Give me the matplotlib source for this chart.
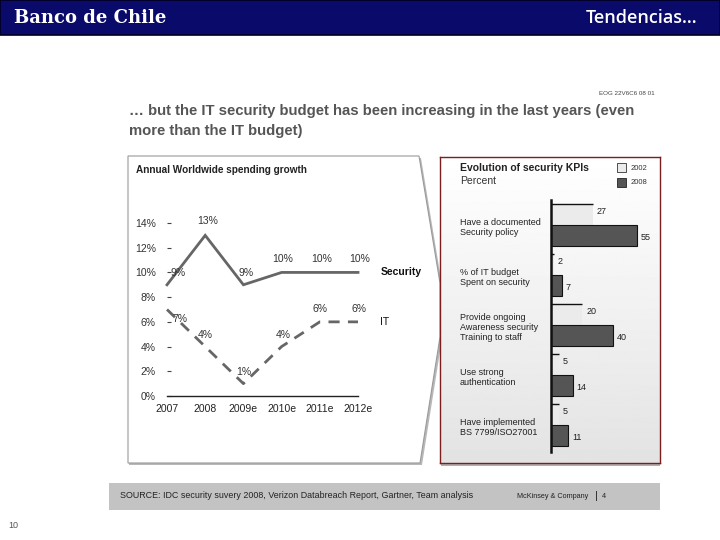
import numpy as np
import matplotlib
matplotlib.use('Agg')
import matplotlib.pyplot as plt
from matplotlib.patches import Rectangle, Polygon
from matplotlib.ticker import FixedLocator

plt.rcParams['font.family'] = ['Liberation Sans', 'DejaVu Sans']

# ---------- data ----------
years = ['2007', '2008', '2009e', '2010e', '2011e', '2012e']
security = [9, 13, 9, 10, 10, 10]
it_spend = [7, 4, 1, 4, 6, 6]
y_ticks = [0, 2, 4, 6, 8, 10, 12, 14]

kpi_labels = ['Have a documented\nSecurity policy',
              '% of IT budget\nSpent on security',
              'Provide ongoing\nAwareness security\nTraining to staff',
              'Use strong\nauthentication',
              'Have implemented\nBS 7799/ISO27001']
kpi_2002 = [27, 2, 20, 5, 5]
kpi_2008 = [55, 7, 40, 14, 11]

W, H = 720, 540


def box(x0, y0, x1, y1):
    # pixel box (top-left origin) -> figure fraction rect
    return [x0 / W, 1 - y1 / H, (x1 - x0) / W, (y1 - y0) / H]


def pt(x, y):
    return (x / W, 1 - y / H)


def ftext(x, y, s, **kw):
    kw.setdefault('va', 'center')
    fig.text(x / W, 1 - y / H, s, **kw)


def fpatch(p):
    p.set_transform(fig.transFigure)
    p.set_zorder(-1)
    fig.patches.append(p)


fig = plt.figure(figsize=(7.2, 5.4), dpi=100)
fig.patch.set_facecolor('white')

# ---------- header ----------
fpatch(Rectangle(pt(0, 35), 1, 35 / H, facecolor='#0a0a6a', edgecolor='#000020', lw=1.2))
ftext(14, 18, 'Banco de Chile', color='white', fontsize=13, fontweight='bold', family='DejaVu Serif')
ftext(697, 18, 'Tendencias…', color='white', fontsize=13, family='Open Sans',
      fontweight='semibold', ha='right')

# ---------- slide title ----------
ftext(655, 93, 'EOG 22V6C6 08 01', fontsize=4.5, color='#444', ha='right')
ftext(129, 111, '… but the IT security budget has been increasing in the last years (even',
      fontsize=10.7, fontweight='bold', color='#555555')
ftext(129, 131, 'more than the IT budget)', fontsize=10.7, fontweight='bold', color='#555555')

# ---------- left panel (arrow box) ----------
fpatch(Polygon([pt(129, 158), pt(421, 158), pt(442, 285), pt(442, 339), pt(422, 465), pt(129, 465)],
               closed=True, facecolor='#b8b8b8', edgecolor='none'))
fpatch(Polygon([pt(128, 156), pt(419, 156), pt(440, 283), pt(440, 337), pt(420, 463), pt(128, 463)],
               closed=True, facecolor='white', edgecolor='#9a9a9a', lw=0.8))
ftext(136, 170, 'Annual Worldwide spending growth', fontsize=7.2, fontweight='bold', color='#222')

# ---------- right panel ----------
bg = fig.add_axes(box(440, 157, 660, 463))
bg.set_zorder(0)
grad = np.linspace(1.0, 0.89, 256).reshape(-1, 1)
bg.imshow(grad, cmap='gray', vmin=0, vmax=1, aspect='auto', extent=[0, 1, 0, 1])
bg.set_xticks([])
bg.set_yticks([])
for s in bg.spines.values():
    s.set_color('#7a1e1e')
    s.set_linewidth(1.0)
fpatch(Rectangle(pt(441, 466), 219 / W, 2.5 / H, facecolor='#b0b0b0', edgecolor='none'))

# ---------- line chart ----------
ax = fig.add_axes(box(167, 223, 358, 396))
ax.set_zorder(2)
x = np.arange(len(years))
line_col = '#666666'
ax.plot(x, security, color=line_col, lw=2, solid_joinstyle='miter', clip_on=False)
ax.plot(x, it_spend, color=line_col, lw=2, dashes=(4, 3), clip_on=False)
ax.set_xlim(0, 5)
ax.set_ylim(0, 14)
for s in ['top', 'right', 'left']:
    ax.spines[s].set_visible(False)
ax.spines['bottom'].set_color('#222')
ax.spines['bottom'].set_linewidth(1)
ax.set_facecolor('none')
ax.set_yticks(y_ticks)
ax.set_yticklabels([f'{v}%' for v in y_ticks], fontsize=7.5, color='#333')
ax.tick_params(axis='y', direction='in', length=3, width=0.8, color='#444', pad=8)
ax.set_xticks(x)
ax.set_xticklabels(years, fontsize=7.5, color='#222')
ax.tick_params(axis='x', length=0, pad=6)
ax.xaxis.set_minor_locator(FixedLocator([1, 5]))
ax.tick_params(axis='x', which='minor', direction='out', length=3, width=0.8, color='#222')

sec_off = [(8, 5), (2, 7), (2, 5), (1, 6), (1, 6), (1, 6)]
it_off = [(9, -3), (0, 5), (0, 5), (1, 5), (0, 6), (1, 6)]
for xi, v, o in zip(x, security, sec_off):
    ax.annotate(f'{v}%', (xi, v), xytext=o, textcoords='offset points', ha='center',
                va='bottom' if o[1] > 0 else 'top', fontsize=7.5, color='#333', annotation_clip=False)
for xi, v, o in zip(x, it_spend, it_off):
    ax.annotate(f'{v}%', (xi, v), xytext=o, textcoords='offset points', ha='center',
                va='bottom' if o[1] > 0 else 'top', fontsize=7.5, color='#333', annotation_clip=False)
ax.annotate('Security', (5, security[-1]), xytext=(16, 0), textcoords='offset points',
            fontsize=7.5, fontweight='bold', color='#111', va='center', annotation_clip=False)
ax.annotate('IT', (5, it_spend[-1]), xytext=(16, 0), textcoords='offset points',
            fontsize=7.5, color='#111', va='center', annotation_clip=False)

# ---------- bar chart ----------
bx = fig.add_axes(box(551, 200, 660, 452))
bx.set_zorder(2)
bx.set_facecolor('none')
n = len(kpi_labels)
g = np.arange(n)
h = 0.42
bx.barh(g - h / 2, kpi_2002, height=h, color='#ebebeb', edgecolor='none')
bx.hlines(g - h, 0, kpi_2002, color='#111', lw=1)
bx.barh(g + h / 2, kpi_2008, height=h, color='#555555', edgecolor='#111', lw=0.8)
bx.set_xlim(0, 109 / 1.56)
bx.set_ylim(n - 0.46, -0.5)
for s in ['top', 'right', 'bottom']:
    bx.spines[s].set_visible(False)
bx.spines['left'].set_linewidth(1.8)
bx.spines['left'].set_color('#111')
bx.set_xticks([])
bx.set_yticks([])
for gi, v in zip(g, kpi_2002):
    bx.text(v + 2.5, gi - h / 2 - 0.05, str(v), fontsize=6.5, color='#222', va='center')
for gi, v in zip(g, kpi_2008):
    bx.text(v + 2.5, gi + h / 2 + 0.03, str(v), fontsize=6.5, color='#222', va='center')
lab_x = (460 - 551) / 109
for gi, lab in zip(g, kpi_labels):
    bx.text(lab_x, gi + 0.05, lab, transform=bx.get_yaxis_transform(), fontsize=6.5,
            color='#222', va='center', ha='left', linespacing=1.15)

ftext(460, 168, 'Evolution of security KPIs', fontsize=7.5, fontweight='bold', color='#222')
ftext(460, 181, 'Percent', fontsize=7.5, color='#333')
fpatch(Rectangle(pt(617, 172), 9 / W, 9 / H, facecolor='#ebebeb', edgecolor='#333', lw=0.6))
fpatch(Rectangle(pt(617, 187), 9 / W, 9 / H, facecolor='#555555', edgecolor='#222', lw=0.6))
for p in fig.patches[-2:]:
    p.set_zorder(3)
ftext(631, 168, '2002', fontsize=5.5, color='#333')
ftext(631, 183, '2008', fontsize=5.5, color='#333')

# ---------- footer ----------
fpatch(Rectangle(pt(109, 510), 551 / W, 27 / H, facecolor='#c3c3c3', edgecolor='none'))
ftext(120, 496, 'SOURCE: IDC security suvery 2008, Verizon Databreach Report, Gartner, Team analysis',
      fontsize=6.4, color='#222')
ftext(588, 496, 'McKinsey & Company', fontsize=5.2, color='#222', ha='right')
ftext(596, 496, '|', fontsize=8, color='#222', ha='center')
ftext(604, 496, '4', fontsize=5.2, color='#222', ha='center')
ftext(8, 525, '10', fontsize=6.5, color='#555')

fig.savefig('out.png', dpi=100)
